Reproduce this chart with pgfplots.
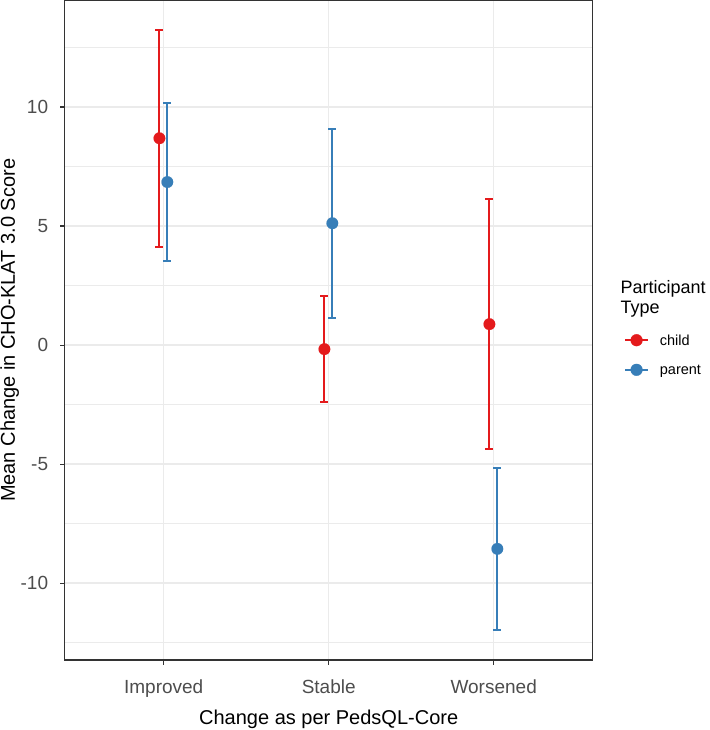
\documentclass[border=0pt]{standalone}
\usepackage{fontspec}
\setmainfont{Liberation Sans}
\usepackage{pgfplots}
\pgfplotsset{compat=1.18}
\definecolor{cchild}{HTML}{E41A1C}
\definecolor{cparent}{HTML}{377EB8}
\definecolor{gridc}{HTML}{EBEBEB}
\definecolor{axisc}{HTML}{333333}
\definecolor{tickc}{HTML}{4D4D4D}
\begin{document}
\begin{tikzpicture}
\path[use as bounding box] (-64.7pt,-70pt) rectangle (644.3pt,660pt);
\begin{axis}[
  at={(0pt,0pt)}, anchor=south west,
  scale only axis, width=528pt, height=659.3pt,
  xmin=0.4, xmax=3.6, ymin=-13.23, ymax=14.47,
  xtick={1,2,3}, xticklabels={Improved,Stable,Worsened},
  ytick={-10,-5,0,5,10}, yticklabels={-10,-5,0,5,10},
  minor ytick={-12.5,-7.5,-2.5,2.5,7.5,12.5},
  grid=both,
  major grid style={gridc, line width=1.4pt},
  minor grid style={gridc, line width=0.7pt},
  axis line style={axisc, line width=1.2pt},
  tick align=outside, tick pos=left,
  major tick length=4.5pt, minor tick length=0pt,
  tick style={axisc, line width=1.2pt},
  ticklabel style={font=\fontsize{19}{22}\selectfont, text=tickc},
  xticklabel style={anchor=base, inner sep=0pt, yshift=-29.3pt},
  yticklabel style={anchor=east, inner sep=0pt, xshift=-11.9pt},
  xlabel={Change as per PedsQL-Core},
  ylabel={Mean Change in CHO-KLAT 3.0 Score},
  label style={font=\fontsize{20}{24}\selectfont, inner sep=0pt},
  xlabel style={at={(axis description cs:0.5,-0.09707)}, anchor=base},
  ylabel style={at={(axis description cs:-0.09413,0.5)}, anchor=base},
  clip=false,
  unbounded coords=jump,
  legend style={draw=none, fill=none, inner sep=0pt, row sep=16.7pt,
    at={(axis description cs:1.0593,0.4624)}, anchor=west,
    font=\fontsize{14.5}{17}\selectfont,
    nodes={inner sep=0pt},
    /tikz/every odd column/.append style={column sep=11pt}},
  legend cell align=left,
]
% error bars (cap, bar, cap)
\addplot[cchild, line width=2pt, mark=none, forget plot] coordinates {
  (0.950,13.25) (0.998,13.25) (0.974,nan) (0.974,13.25) (0.974,4.13) (0.974,nan) (0.950,4.13) (0.998,4.13) (0.974,nan)
  (1.950,2.06) (1.998,2.06) (1.974,nan) (1.974,2.06) (1.974,-2.40) (1.974,nan) (1.950,-2.40) (1.998,-2.40) (1.974,nan)
  (2.950,6.125) (2.998,6.125) (2.974,nan) (2.974,6.125) (2.974,-4.365) (2.974,nan) (2.950,-4.365) (2.998,-4.365)
};
\addplot[cparent, line width=2pt, mark=none, forget plot] coordinates {
  (0.998,10.16) (1.046,10.16) (1.022,nan) (1.022,10.16) (1.022,3.54) (1.022,nan) (0.998,3.54) (1.046,3.54) (1.022,nan)
  (1.998,9.09) (2.046,9.09) (2.022,nan) (2.022,9.09) (2.022,1.15) (2.022,nan) (1.998,1.15) (2.046,1.15) (2.022,nan)
  (2.998,-5.15) (3.046,-5.15) (3.022,nan) (3.022,-5.15) (3.022,-11.97) (3.022,nan) (2.998,-11.97) (3.046,-11.97)
};
% points
\addplot[only marks, mark=*, mark size=5.85pt,
  mark options={fill=cchild, draw=cchild, line width=0.1pt},
  legend image code/.code={
    \draw[cchild, line width=2pt] (0pt,0.85pt) -- (22.7pt,0.85pt);
    \fill[cchild] (11.35pt,0.85pt) circle (5.85pt);},
  ]
  coordinates {
  (0.974,8.69)
  (1.974,-0.17)
  (2.974,0.88)
};
\addlegendentry{child}
\addplot[only marks, mark=*, mark size=5.85pt,
  mark options={fill=cparent, draw=cparent, line width=0.1pt},
  legend image code/.code={
    \draw[cparent, line width=2pt] (0pt,0.85pt) -- (22.7pt,0.85pt);
    \fill[cparent] (11.35pt,0.85pt) circle (5.85pt);},
  ]
  coordinates {
  (1.022,6.85)
  (2.022,5.12)
  (3.022,-8.56)
};
\addlegendentry{parent}
\end{axis}
\node[anchor=base west, inner sep=0pt, font=\fontsize{18}{20}\selectfont] at (555.6pt,366pt) {Participant};
\node[anchor=base west, inner sep=0pt, font=\fontsize{18}{20}\selectfont] at (555.6pt,346pt) {Type};
\end{tikzpicture}
\end{document}
